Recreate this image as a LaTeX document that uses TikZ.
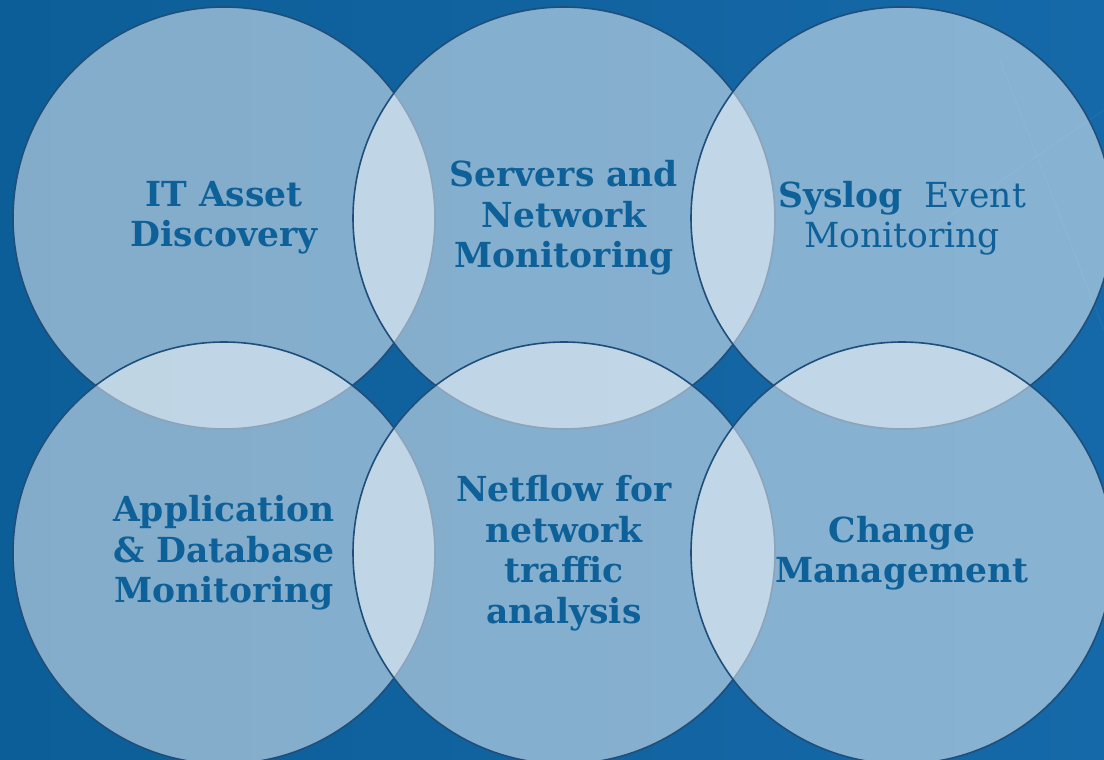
\documentclass[tikz,border=0pt]{standalone}
\usepackage{fontspec}
\setmainfont{DejaVu Serif}
\usepackage{tikz}
\usetikzlibrary{positioning}
\definecolor{bgdark}{HTML}{0C5E98}
\definecolor{bglight}{HTML}{1669A8}
\definecolor{ringline}{HTML}{1F4E7A}
\definecolor{labelblue}{HTML}{0D6098}

\begin{document}
\begin{tikzpicture}[x=1pt,y=-1pt]
          \tikzstyle{bubble} = [circle, draw=ringline, line width=1.6pt, fill=white, fill opacity=0.49, text opacity=1, minimum size=422pt, inner sep=0pt, align=center, text=labelblue, font=\fontsize{34.5}{40.5}\selectfont]

          % background
          \useasboundingbox (0,0) rectangle (1104,760);
          \fill[left color=bgdark, right color=bglight] (0,0) rectangle (1104,760);
          \draw[white, opacity=0.05, line width=1pt] (900,250) -- (1104,110);
          \draw[white, opacity=0.05, line width=1pt] (1000,60) -- (1104,330);

          % top row
          \node[bubble] (asset) at (224,218) {\bfseries IT Asset\\\bfseries Discovery};
          \node[bubble] (servers) at (564,218) {\bfseries Servers and\\\bfseries Network\\\bfseries Monitoring};
          \node[bubble] (syslog) at (902,218) {\textbf{Syslog}\ \ Event\\Monitoring};

          % bottom row
          \node[bubble] (appdb) at (224,553) {\bfseries Application\\\bfseries \& Database\\\bfseries Monitoring};
          \node[bubble] (netflow) at (564,553) {\bfseries Netflow for\\\bfseries network\\\bfseries traffic\\\bfseries analysis};
          \node[bubble] (change) at (902,553) {\bfseries Change\\\bfseries Management};
        \end{tikzpicture}
\end{document}
